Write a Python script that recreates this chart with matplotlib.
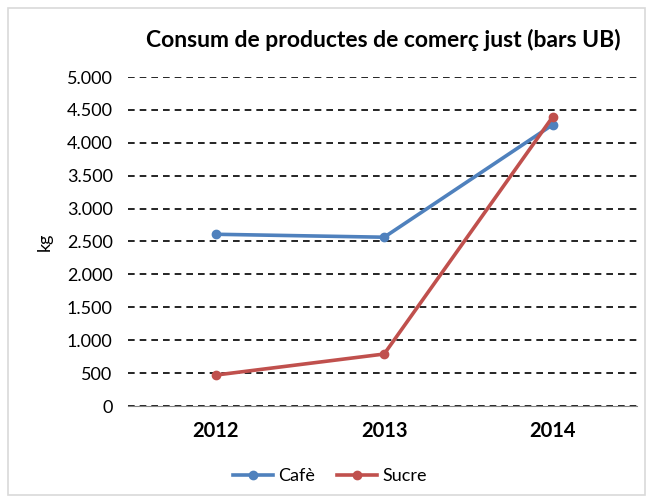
import matplotlib.pyplot as plt
from matplotlib.patches import Rectangle
from matplotlib.ticker import FuncFormatter

years = ['2012', '2013', '2014']
cafe = [2610, 2565, 4275]
sucre = [470, 790, 4395]

plt.rcParams['font.family'] = ['Lato', 'DejaVu Sans']

fig = plt.figure(figsize=(6.48, 4.98), dpi=100)
fig.patches.append(Rectangle((0.013, 0.006), 0.982, 0.978, transform=fig.transFigure,
                             fill=False, edgecolor='#d9d9d9', linewidth=1.2))
ax = fig.add_axes([128 / 648, 92 / 498, 509 / 648, 329 / 498])

x = range(len(years))
ax.plot(x, cafe, color='#4F81BD', lw=2.6, marker='o', ms=6, label='Cafè')
ax.plot(x, sucre, color='#C0504D', lw=2.6, marker='o', ms=6, label='Sucre')

ax.set_xlim(-0.52, 2.5)
ax.set_ylim(0, 5000)
ax.set_yticks(range(0, 5001, 500))
ax.yaxis.set_major_formatter(FuncFormatter(lambda v, p: f'{int(v):,}'.replace(',', '.')))
ax.set_xticks(list(x))
ax.set_xticklabels(years, fontsize=14.5, fontweight='bold')
ax.tick_params(axis='y', labelsize=13, length=0, pad=11)
ax.tick_params(axis='x', length=0, pad=11)

ax.grid(axis='y', color='black', linestyle=(0, (4, 3)), linewidth=1.2)
ax.set_axisbelow(True)
for s in ['top', 'right', 'left']:
    ax.spines[s].set_visible(False)
ax.spines['bottom'].set_color('#868686')
ax.spines['bottom'].set_zorder(1)

ax.set_ylabel('kg', fontsize=13, labelpad=10)
fig.text(383 / 648, 1 - 40 / 498, 'Consum de productes de comerç just (bars UB)',
         ha='center', va='center', fontsize=16.5, fontweight='bold')

fig.legend(loc='center', bbox_to_anchor=(330 / 648, 1 - 476 / 498), ncol=2, frameon=False,
           fontsize=13, handlelength=2.2, columnspacing=1.2, handletextpad=0.3)

fig.savefig('out.png', dpi=100)
